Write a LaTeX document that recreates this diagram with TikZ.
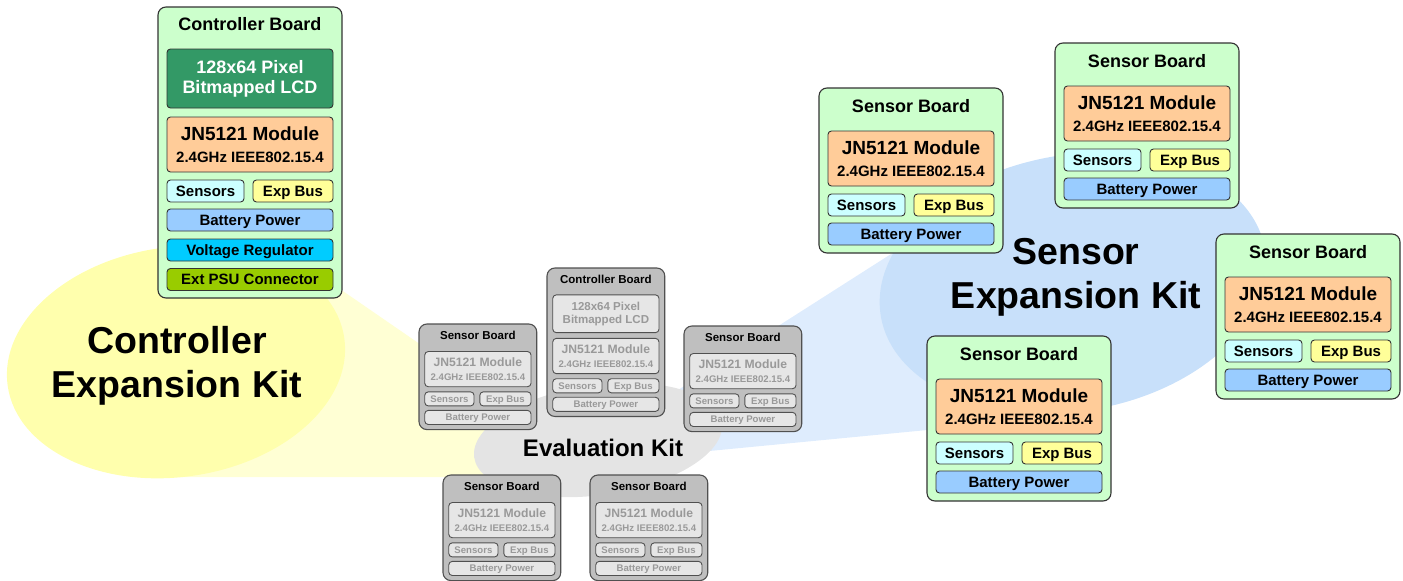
\documentclass[tikz,border=0pt]{standalone}
\usepackage{fontspec}
\setmainfont{Liberation Sans}
\definecolor{boardg}{HTML}{CCFFCC}
\definecolor{lcdc}{HTML}{339966}
\definecolor{modc}{HTML}{FFCC99}
\definecolor{senc}{HTML}{CCFFFF}
\definecolor{expc}{HTML}{FFFF99}
\definecolor{batc}{HTML}{99CCFF}
\definecolor{vrc}{HTML}{00CCFF}
\definecolor{psuc}{HTML}{99CC00}
\definecolor{grayout}{HTML}{BFBFBF}
\definecolor{grayin}{HTML}{E6E6E6}
\definecolor{graytext}{HTML}{999999}
\definecolor{grayline}{HTML}{505050}
\definecolor{yellowell}{HTML}{FFFFAD}
\definecolor{yellowbeam}{HTML}{FFFFD4}
\definecolor{blueell}{HTML}{C8E0FA}
\definecolor{bluebeam}{HTML}{DEECFD}
\definecolor{grayell}{HTML}{E4E4E4}
\newcommand\sensorboard[5]{%
\begin{scope}[shift={(#2,#3)},scale=#4,every node/.append style={transform shape}]
\node[board-#5,minimum width=184pt,minimum height=165pt] (#1) at (92,82.5) {};
\node[titletext] (#1-title) at (92,17.5) {Sensor Board};
\node[mod-#5,minimum width=166pt,minimum height=55pt] (#1-mod) at (92,70.5) {{\fontsize{19}{22}\selectfont JN5121 Module}\\2.4GHz IEEE802.15.4};
\node[sen-#5,minimum width=77pt,minimum height=22pt] (#1-sen) at (47.5,117) {Sensors};
\node[exp-#5,minimum width=80pt,minimum height=22pt] (#1-exp) at (135,117) {Exp Bus};
\node[bat-#5,minimum width=166pt,minimum height=22pt] (#1-bat) at (92,146) {Battery Power};
\end{scope}}
\begin{document}
\begin{tikzpicture}[x=1pt,y=-1pt,
  board/.style={line width=1.1pt,rounded corners=8pt,inner sep=0pt},
  board-G/.style={board,draw=black!80,fill=boardg},
  board-Y/.style={board,draw=grayline,fill=grayout},
  titletext/.style={inner sep=0pt,text height=13pt,text depth=0pt,font=\fontsize{18}{21}\selectfont\bfseries},
  part/.style={line width=0.9pt,rounded corners=3.5pt,inner sep=0pt,align=center},
  partG/.style={part,draw=black!80,text=black},
  partY/.style={part,draw=grayline,fill=grayin,text=graytext},
  small/.style={text height=10.8pt,text depth=0pt,font=\fontsize{15}{18}\selectfont\bfseries},
  mod-G/.style={partG,fill=modc,font=\fontsize{15}{22}\selectfont\bfseries},
  mod-Y/.style={partY,font=\fontsize{15}{22}\selectfont\bfseries},
  lcd-G/.style={partG,fill=lcdc,text=white,font=\fontsize{18}{20}\selectfont\bfseries},
  lcd-Y/.style={partY,font=\fontsize{18}{20}\selectfont\bfseries},
  sen-G/.style={partG,small,fill=senc},
  sen-Y/.style={partY,small},
  exp-G/.style={partG,small,fill=expc},
  exp-Y/.style={partY,small},
  bat-G/.style={partG,small,fill=batc},
  bat-Y/.style={partY,small},
  vr-G/.style={partG,small,fill=vrc},
  psu-G/.style={partG,small,fill=psuc},
  kittext/.style={inner sep=0pt,align=center,font=\fontsize{37.5}{44}\selectfont\bfseries},
  evaltext/.style={inner sep=0pt,font=\fontsize{24}{28}\selectfont\bfseries}
]
\useasboundingbox (0,0) rectangle (1403,581);
% beams
\fill[yellowbeam] (250,227) -- (575,451) -- (575,477) -- (150,477) -- cycle;
\fill[bluebeam] (960,210) -- (620,427) -- (620,459.6) -- (1000,423) -- cycle;
% ellipses
\fill[yellowell,rotate around={8:(176,362)}] (176,362) ellipse [x radius=170,y radius=115];
\fill[blueell,rotate around={10:(1073,283)}] (1073,283) ellipse [x radius=195,y radius=128];
\fill[grayell,rotate around={8:(598,440)}] (598,440) ellipse [x radius=125,y radius=55];
% kit labels
\node[kittext] (cek) at (177,366) {Controller\\Expansion Kit};
\node[kittext] (sek) at (1076,277) {Sensor\\Expansion Kit};
\node[evaltext] (ek) at (603,448) {Evaluation Kit};
% big controller board
\begin{scope}[shift={(158,7)}]
\node[board-G,minimum width=184pt,minimum height=291pt] (cb) at (92,145.5) {};
\node[titletext] (cb-title) at (92,17) {Controller Board};
\node[lcd-G,minimum width=166pt,minimum height=59pt] (cb-lcd) at (92,71.5) {128x64 Pixel\\Bitmapped LCD};
\node[mod-G,minimum width=166pt,minimum height=55pt] (cb-mod) at (92,137.5) {{\fontsize{19}{22}\selectfont JN5121 Module}\\2.4GHz IEEE802.15.4};
\node[sen-G,minimum width=77pt,minimum height=22pt] (cb-sen) at (47.5,184) {Sensors};
\node[exp-G,minimum width=80pt,minimum height=22pt] (cb-exp) at (135,184) {Exp Bus};
\node[bat-G,minimum width=166pt,minimum height=22pt] (cb-bat) at (92,213) {Battery Power};
\node[vr-G,minimum width=166pt,minimum height=22pt] (cb-vr) at (92,243) {Voltage Regulator};
\node[psu-G,minimum width=166pt,minimum height=22pt] (cb-psu) at (92,272.5) {Ext PSU Connector};
\end{scope}
% gray controller board
\begin{scope}[shift={(547,268)},scale=0.64,every node/.append style={transform shape}]
\node[board-Y,minimum width=184pt,minimum height=232pt] (gc) at (92,116) {};
\node[titletext] (gc-title) at (92,17) {Controller Board};
\node[lcd-Y,minimum width=166pt,minimum height=59pt] (gc-lcd) at (92,71.5) {128x64 Pixel\\Bitmapped LCD};
\node[mod-Y,minimum width=166pt,minimum height=55pt] (gc-mod) at (92,137.5) {{\fontsize{19}{22}\selectfont JN5121 Module}\\2.4GHz IEEE802.15.4};
\node[sen-Y,minimum width=77pt,minimum height=22pt] (gc-sen) at (47.5,184) {Sensors};
\node[exp-Y,minimum width=80pt,minimum height=22pt] (gc-exp) at (135,184) {Exp Bus};
\node[bat-Y,minimum width=166pt,minimum height=22pt] (gc-bat) at (92,213) {Battery Power};
\end{scope}
% gray sensor boards
\sensorboard{g1}{419}{324}{0.64}{Y}
\sensorboard{g2}{684}{326}{0.64}{Y}
\sensorboard{g3}{443}{475}{0.64}{Y}
\sensorboard{g4}{590}{475}{0.64}{Y}
% green sensor boards
\sensorboard{s1}{819}{88}{1}{G}
\sensorboard{s2}{1055}{43}{1}{G}
\sensorboard{s3}{1216}{234}{1}{G}
\sensorboard{s4}{927}{336}{1}{G}
\end{tikzpicture}
\end{document}
